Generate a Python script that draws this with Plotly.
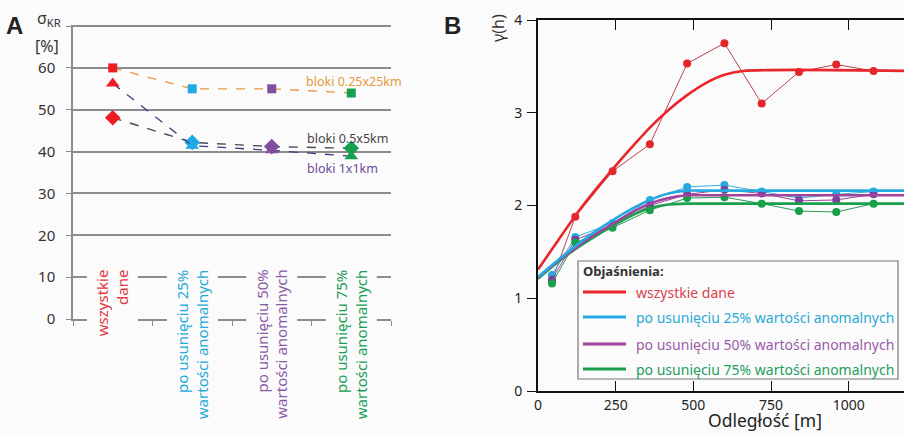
import plotly.graph_objects as go

W, H = 904, 434
BG = "#fbfbfb"

# ---------------- Panel A data ----------------
categories = ["wszystkie dane",
              "po usunięciu 25% wartości anomalnych",
              "po usunięciu 50% wartości anomalnych",
              "po usunięciu 75% wartości anomalnych"]
category_labels = ["wszystkie<br>dane",
                   "po usunięciu 25%<br>wartości anomalnych",
                   "po usunięciu 50%<br>wartości anomalnych",
                   "po usunięciu 75%<br>wartości anomalnych"]
category_text_colors = ["#e0363f", "#25a9d8", "#8a5aa8", "#1a9e55"]
category_marker_colors = ["#ee1c24", "#1fa9e6", "#7f4fa0", "#14a04e"]

series_names = ["bloki 0.25x25km", "bloki 0.5x5km", "bloki 1x1km"]
bloki_025x25 = [60.0, 55.0, 55.0, 54.0]
bloki_05x5 = [48.1, 42.2, 41.2, 40.8]
bloki_1x1 = [56.3, 41.4, 40.3, 38.9]
yticks_A = [0, 10, 20, 30, 40, 50, 60, 70]
yticklabels_A = ["0", "10", "20", "30", "40", "50", "60", " "]

# ---------------- Panel B data ----------------
lags = [45, 120, 240, 360, 480, 600, 720, 840, 960, 1080]
exp_all = [1.19, 1.88, 2.37, 2.66, 3.53, 3.75, 3.10, 3.44, 3.52, 3.45]
exp_25 = [1.25, 1.66, 1.81, 2.06, 2.20, 2.22, 2.15, 2.08, 2.12, 2.15]
exp_50 = [1.20, 1.63, 1.79, 2.00, 2.12, 2.17, 2.13, 2.05, 2.06, 2.12]
exp_75 = [1.16, 1.60, 1.76, 1.95, 2.08, 2.09, 2.02, 1.94, 1.93, 2.02]

model_h = [0, 60, 120, 180, 240, 300, 360, 420, 480, 540, 600, 660, 1200]
model_all = [1.31, 1.60, 1.89, 2.15, 2.39, 2.62, 2.84, 3.03, 3.19, 3.32, 3.41, 3.45, 3.45]
model_25 = [1.23, 1.40, 1.56, 1.71, 1.84, 1.96, 2.06, 2.13, 2.16, 2.16, 2.16, 2.16, 2.16]
model_50 = [1.22, 1.39, 1.54, 1.68, 1.80, 1.92, 2.02, 2.08, 2.11, 2.11, 2.11, 2.11, 2.11]
model_75 = [1.21, 1.38, 1.53, 1.66, 1.78, 1.89, 1.97, 2.01, 2.02, 2.02, 2.02, 2.02, 2.02]

legend_names = ["wszystkie dane",
                "po usunięciu 25% wartości anomalnych",
                "po usunięciu 50% wartości anomalnych",
                "po usunięciu 75% wartości anomalnych"]
model_colors = ["#e8262c", "#27aae1", "#a2449c", "#1aa04c"]
exp_line_colors = ["#b8434e", "#3ab0d8", "#9b4a9b", "#2a9a5a"]
exp_marker_colors = ["#e3262b", "#27aae1", "#7d3fa0", "#17a04a"]
legend_text_colors = ["#d9434f", "#2aaad5", "#9a5ba8", "#1f9e5c"]
xticks_B = [0, 250, 500, 750, 1000]
yticks_B = [0, 1, 2, 3, 4]

FONT = "Noto Sans"


def px(x):
    return x / W


def py(y):
    return 1 - y / H


fig = go.Figure()

# ---------- Panel A traces ----------
fig.add_trace(go.Scatter(x=categories, y=bloki_025x25, mode="lines+markers",
                         line=dict(color="#e39a3c", width=1.3, dash="dash"),
                         marker=dict(symbol="square", size=9, color=category_marker_colors),
                         xaxis="x", yaxis="y", showlegend=False))
fig.add_trace(go.Scatter(x=categories, y=bloki_05x5, mode="lines+markers",
                         line=dict(color="#4a4a55", width=1.4, dash="dash"),
                         marker=dict(symbol="diamond", size=12, color=category_marker_colors),
                         xaxis="x", yaxis="y", showlegend=False))
fig.add_trace(go.Scatter(x=categories, y=bloki_1x1, mode="lines+markers",
                         line=dict(color="#3d3d80", width=1.3, dash="dash"),
                         marker=dict(symbol="triangle-up", size=12, color=category_marker_colors),
                         xaxis="x", yaxis="y", showlegend=False))

# ---------- Panel B traces ----------
exps = [exp_all, exp_25, exp_50, exp_75]
models = [model_all, model_25, model_50, model_75]
for i in range(4):
    fig.add_trace(go.Scatter(x=lags, y=exps[i], mode="lines+markers",
                             line=dict(color=exp_line_colors[i], width=1),
                             marker=dict(symbol="circle", size=8, color=exp_marker_colors[i]),
                             xaxis="x2", yaxis="y2", showlegend=False))
for i in [3, 2, 1, 0]:
    fig.add_trace(go.Scatter(x=model_h, y=models[i], mode="lines",
                             line=dict(color=model_colors[i], width=2.6, shape="spline", smoothing=0.8),
                             xaxis="x2", yaxis="y2", showlegend=False))

annotations = []
shapes = []

# Category labels (rotated) in panel A
for c, lab, col in zip(categories, category_labels, category_text_colors):
    annotations.append(dict(x=c, y=13.4, xref="x", yref="y", text=lab, textangle=-90,
                            showarrow=False, xanchor="center", yanchor="top", align="right",
                            bgcolor=BG, borderpad=5,
                            font=dict(family=FONT, size=15, color=col)))

# Series labels in panel A
series_label_pos = [(304, 81, "#e39a3c"), (305, 138, "#444444"), (305, 168, "#6b4c9a")]
for name, (x, y, col) in zip(series_names, series_label_pos):
    annotations.append(dict(x=px(x), y=py(y), xref="paper", yref="paper", text=name,
                            showarrow=False, xanchor="left", yanchor="middle",
                            font=dict(family=FONT, size=12.5, color=col)))

# Panel letters and axis labels
annotations += [
    dict(x=px(14), y=py(25), xref="paper", yref="paper", text="<b>A</b>", showarrow=False,
         xanchor="center", yanchor="middle", font=dict(family="Liberation Sans", size=24, color="#222")),
    dict(x=px(452), y=py(25), xref="paper", yref="paper", text="<b>B</b>", showarrow=False,
         xanchor="center", yanchor="middle", font=dict(family="Liberation Sans", size=24, color="#222")),
    dict(x=px(35), y=py(18), xref="paper", yref="paper", text="σ<sub>KR</sub>", showarrow=False,
         xanchor="left", yanchor="middle", font=dict(family=FONT, size=16, color="#333")),
    dict(x=px(47), y=py(46), xref="paper", yref="paper", text="[%]", showarrow=False,
         xanchor="center", yanchor="middle", font=dict(family=FONT, size=16, color="#333")),
    dict(x=px(498), y=py(28), xref="paper", yref="paper", text="γ(h)", showarrow=False, textangle=-90,
         xanchor="center", yanchor="middle", font=dict(family=FONT, size=16, color="#333")),
    dict(x=px(765), y=py(434), xref="paper", yref="paper", text="Odległość [m]", showarrow=False,
         xanchor="center", yanchor="bottom", font=dict(family=FONT, size=17.5, color="#222")),
]

# Manual legend for panel B
shapes.append(dict(type="rect", xref="paper", yref="paper", x0=px(578), x1=px(898), y0=py(379), y1=py(261),
                   line=dict(color="#777", width=1.2), fillcolor=BG, layer="above"))
annotations.append(dict(x=px(581), y=py(271), xref="paper", yref="paper", text="<b>Objaśnienia:</b>",
                        showarrow=False, xanchor="left", yanchor="middle",
                        font=dict(family=FONT, size=13, color="#333")))
legend_y = [292, 317, 344, 369]
for name, ly, lc, tc in zip(legend_names, legend_y, model_colors, legend_text_colors):
    shapes.append(dict(type="line", xref="paper", yref="paper", x0=px(583), x1=px(626), y0=py(ly), y1=py(ly),
                       line=dict(color=lc, width=3), layer="above"))
    annotations.append(dict(x=px(634), y=py(ly), xref="paper", yref="paper", text=name,
                            showarrow=False, xanchor="left", yanchor="middle",
                            font=dict(family=FONT, size=14, color=tc)))

fig.update_layout(
    width=W, height=H,
    margin=dict(l=0, r=0, t=0, b=0, pad=0, autoexpand=False),
    paper_bgcolor=BG, plot_bgcolor=BG,
    font=dict(family=FONT, color="#333"),
    annotations=annotations,
    shapes=shapes,
    xaxis=dict(domain=[px(73), px(391)], type="category", range=[-0.5, 3.5], automargin=False,
               showticklabels=False, showgrid=False, zeroline=False,
               showline=True, linecolor="#8c8c8c", linewidth=1.5,
               ticks="outside", tickson="boundaries", ticklen=5, tickcolor="#8c8c8c",
               anchor="y"),
    yaxis=dict(domain=[py(319), py(25)], range=[0, 70.25], tickvals=yticks_A, ticktext=yticklabels_A,
               automargin=False,
               showgrid=True, gridcolor="#8c8c8c", gridwidth=1.5, zeroline=False,
               showline=True, linecolor="#8c8c8c", linewidth=1.5,
               ticks="outside", ticklen=5, tickcolor="#8c8c8c", ticklabelstandoff=8,
               tickfont=dict(family=FONT, size=15, color="#333"), anchor="x"),
    xaxis2=dict(domain=[px(538), 1.0], range=[0, 1178], tickvals=xticks_B, automargin=False,
                showgrid=False, zeroline=False, showline=True, linecolor="#111", linewidth=2,
                mirror="ticks", ticks="inside", ticklen=10, tickcolor="#111",
                tickfont=dict(family=FONT, size=14, color="#222"),
                anchor="y2"),
    yaxis2=dict(domain=[py(391), py(20)], range=[0, 4], tickvals=yticks_B, automargin=False,
                showgrid=False, zeroline=False, showline=True, linecolor="#111", linewidth=2,
                mirror="ticks", ticks="outside", ticklen=9, tickcolor="#111",
                tickfont=dict(family=FONT, size=14, color="#222"), ticklabelstandoff=2,
                anchor="x2"),
)

fig.write_html("out.html", config={"displayModeBar": False},
               post_script="document.body.style.margin='0';document.body.style.overflow='hidden';")
